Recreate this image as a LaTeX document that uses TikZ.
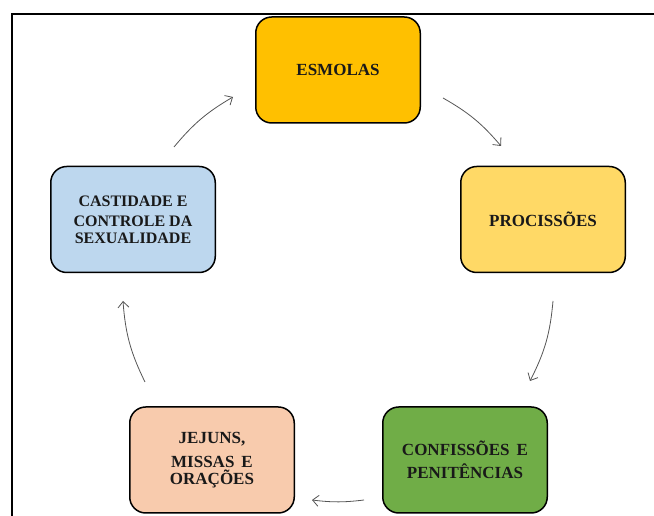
\documentclass[tikz,border=0pt]{standalone}
\usepackage{fontspec}
\setmainfont{Liberation Serif}
\usetikzlibrary{arrows.meta}
\definecolor{cEsm}{HTML}{FFC000}
\definecolor{cPro}{HTML}{FFD966}
\definecolor{cCon}{HTML}{70AD47}
\definecolor{cJej}{HTML}{F8CBAD}
\definecolor{cCas}{HTML}{BDD7EE}
\definecolor{cArr}{HTML}{555555}
\begin{document}
\begin{tikzpicture}[x=1pt,y=1pt,
  box/.style={draw=black, line width=1.5pt, rounded corners=16pt,
    minimum width=164.5pt, minimum height=106pt, align=center,
    font=\bfseries\fontsize{17}{16.7}\selectfont, text=black!90},
  cyc/.style={draw=cArr, line width=0.8pt, -{Straight Barb[length=6pt,width=11pt]}}]
\useasboundingbox (0,0) rectangle (654,516);
\fill[white] (0,0) rectangle (654,516);
\draw[line width=2pt, line cap=rect] (11.5,0) -- (11.5,501.5) -- (654,501.5);

\node[box, fill=cEsm] (esm) at (338,446) {ESMOLAS};
\node[box, fill=cPro] (pro) at (543,296.5) {PROCISSÕES};
\node[box, fill=cCon] (con) at (465,56) {CONFISSÕES\hspace{7pt}E\\[6pt]PENITÊNCIAS};
\node[box, fill=cJej] (jej) at (212,56) {JEJUNS,\\[7pt]MISSAS\hspace{7pt}E\\ORAÇÕES};
\node[box, fill=cCas, font=\bfseries\fontsize{16}{16.7}\selectfont] (cas) at (133,296.5)
  {CASTIDADE E\\[4pt]CONTROLE DA\\SEXUALIDADE};

\coordinate (a1s) at (443,418); \coordinate (a1e) at (501,370);
\coordinate (a2s) at (553,215); \coordinate (a2e) at (530,135);
\coordinate (a3s) at (364,16);  \coordinate (a3e) at (312,16);
\coordinate (a4s) at (145,134); \coordinate (a4e) at (123,215);
\coordinate (a5s) at (174,369); \coordinate (a5e) at (233,419);

\draw[cyc] (a1s) to[bend left=10] (a1e);
\draw[cyc] (a2s) to[bend left=11] (a2e);
\draw[cyc] (a3s) to[bend left=7] (a3e);
\draw[cyc] (a4s) to[bend left=11] (a4e);
\draw[cyc] (a5s) to[bend left=10] (a5e);
\end{tikzpicture}
\end{document}
